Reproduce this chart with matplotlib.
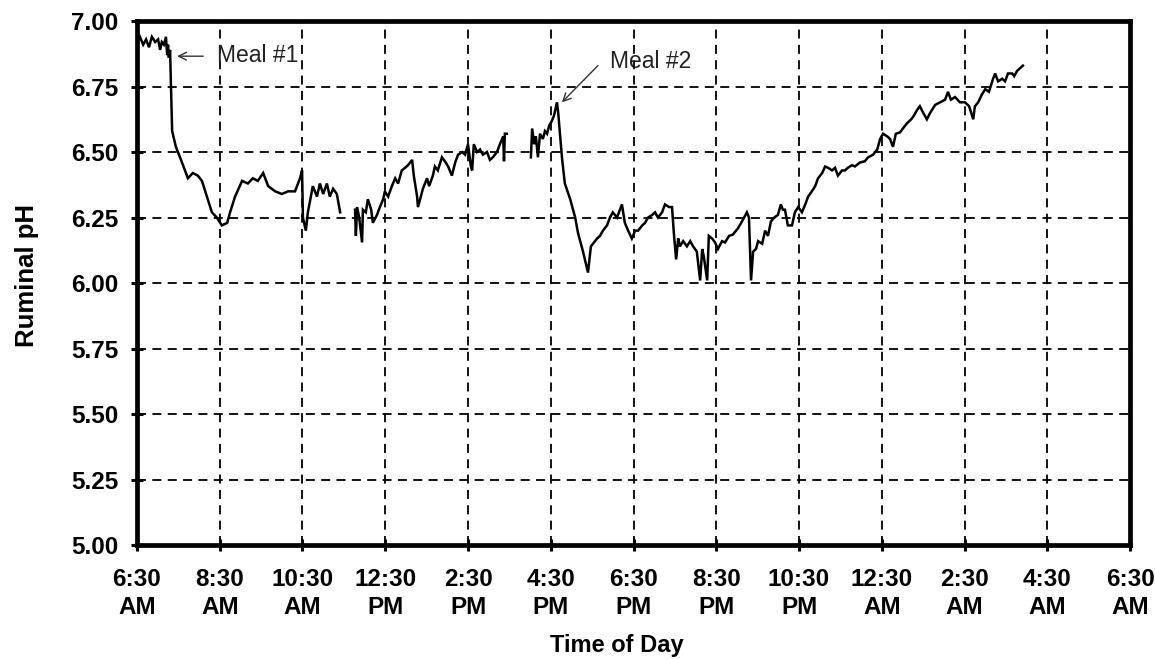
import matplotlib
matplotlib.use("Agg")
import matplotlib.pyplot as plt

plt.rcParams['font.family'] = ['Liberation Sans', 'DejaVu Sans']

# Time is in hours after 6:30 AM; pH readings from the ruminal probe.
# Segment 1: 6:30 AM to ~11:25 AM
hours1 = [0.00, 0.07, 0.15, 0.22, 0.29, 0.36, 0.44, 0.51, 0.56, 0.60, 0.65, 0.70,
          0.73, 0.75, 0.77, 0.80, 0.82, 0.85, 0.94, 1.04, 1.16, 1.23, 1.35, 1.47,
          1.57, 1.69, 1.81, 1.93, 2.05, 2.18, 2.25, 2.37, 2.54, 2.68, 2.80, 2.92,
          3.05, 3.17, 3.34, 3.50, 3.65, 3.82, 3.94, 3.99, 4.01, 4.08, 4.13, 4.25,
          4.35, 4.42, 4.50, 4.59, 4.66, 4.74, 4.83, 4.91]
ph1 = [6.92, 6.94, 6.91, 6.93, 6.90, 6.94, 6.92, 6.93, 6.89, 6.92, 6.91, 6.94,
       6.87, 6.91, 6.86, 6.89, 6.76, 6.58, 6.52, 6.48, 6.43, 6.40, 6.42, 6.41,
       6.39, 6.33, 6.27, 6.25, 6.22, 6.23, 6.27, 6.33, 6.39, 6.38, 6.40, 6.39,
       6.42, 6.37, 6.35, 6.34, 6.35, 6.35, 6.40, 6.43, 6.25, 6.20, 6.27, 6.37,
       6.33, 6.38, 6.34, 6.38, 6.33, 6.36, 6.34, 6.27]

# Segment 2: ~11:45 AM to ~3:25 PM
hours2 = [5.27, 5.29, 5.32, 5.37, 5.44, 5.46, 5.53, 5.58, 5.66, 5.70, 5.80, 5.87,
          5.95, 5.99, 6.07, 6.16, 6.24, 6.31, 6.40, 6.48, 6.55, 6.65, 6.69, 6.77,
          6.79, 6.86, 6.91, 7.01, 7.06, 7.15, 7.20, 7.27, 7.37, 7.44, 7.52, 7.61,
          7.69, 7.76, 7.86, 7.93, 8.00, 8.07, 8.10, 8.14, 8.22, 8.29, 8.36, 8.46,
          8.53, 8.60, 8.70, 8.77, 8.85, 8.87, 8.89, 8.94]
ph2 = [6.28, 6.18, 6.29, 6.25, 6.155, 6.28, 6.27, 6.32, 6.28, 6.23, 6.26, 6.29,
       6.32, 6.35, 6.33, 6.37, 6.40, 6.38, 6.43, 6.44, 6.45, 6.47, 6.41, 6.33,
       6.29, 6.33, 6.36, 6.40, 6.37, 6.41, 6.445, 6.43, 6.48, 6.465, 6.445, 6.41,
       6.46, 6.49, 6.50, 6.49, 6.53, 6.445, 6.43, 6.53, 6.50, 6.51, 6.49, 6.50,
       6.47, 6.48, 6.50, 6.53, 6.56, 6.465, 6.57, 6.57]

# Segment 3: ~4:00 PM to ~3:55 AM
hours3 = [9.52, 9.55, 9.60, 9.64, 9.69, 9.74, 9.81, 9.86, 9.91, 9.96, 10.03, 10.08,
          10.15, 10.18, 10.27, 10.34, 10.47, 10.59, 10.66, 10.78, 10.90, 10.97, 11.02, 11.12,
          11.19, 11.26, 11.36, 11.43, 11.50, 11.60, 11.72, 11.79, 11.87, 11.96, 12.04, 12.11,
          12.21, 12.28, 12.35, 12.45, 12.52, 12.59, 12.69, 12.76, 12.86, 12.93, 12.98, 13.03,
          13.08, 13.12, 13.20, 13.29, 13.37, 13.44, 13.53, 13.61, 13.66, 13.70, 13.78, 13.82,
          13.90, 13.97, 14.04, 14.14, 14.21, 14.31, 14.40, 14.53, 14.62, 14.74, 14.79, 14.84,
          14.89, 14.96, 15.01, 15.11, 15.18, 15.25, 15.32, 15.40, 15.49, 15.56, 15.61, 15.66,
          15.73, 15.83, 15.90, 15.98, 16.07, 16.15, 16.22, 16.31, 16.39, 16.46, 16.56, 16.63,
          16.70, 16.80, 16.87, 16.94, 17.04, 17.11, 17.18, 17.28, 17.35, 17.47, 17.59, 17.67,
          17.79, 17.89, 17.96, 18.03, 18.13, 18.20, 18.27, 18.34, 18.44, 18.51, 18.61, 18.71,
          18.78, 18.85, 18.92, 19.00, 19.09, 19.17, 19.29, 19.41, 19.53, 19.60, 19.67, 19.77,
          19.89, 20.01, 20.11, 20.21, 20.25, 20.33, 20.42, 20.50, 20.59, 20.69, 20.74, 20.81,
          20.91, 20.98, 21.05, 21.15, 21.20, 21.27, 21.34, 21.41]
ph3 = [6.48, 6.59, 6.53, 6.56, 6.48, 6.57, 6.55, 6.58, 6.57, 6.60, 6.62, 6.64,
       6.69, 6.65, 6.48, 6.38, 6.32, 6.25, 6.19, 6.12, 6.04, 6.14, 6.15, 6.17,
       6.18, 6.20, 6.22, 6.25, 6.27, 6.25, 6.30, 6.23, 6.20, 6.17, 6.20, 6.20,
       6.22, 6.23, 6.25, 6.26, 6.27, 6.25, 6.27, 6.30, 6.29, 6.29, 6.18, 6.09,
       6.17, 6.14, 6.16, 6.14, 6.16, 6.14, 6.12, 6.01, 6.13, 6.10, 6.01, 6.18,
       6.17, 6.155, 6.13, 6.16, 6.155, 6.18, 6.185, 6.21, 6.235, 6.27, 6.25, 6.01,
       6.12, 6.13, 6.16, 6.15, 6.20, 6.18, 6.235, 6.25, 6.26, 6.30, 6.28, 6.28,
       6.22, 6.22, 6.27, 6.29, 6.27, 6.30, 6.33, 6.35, 6.37, 6.40, 6.42, 6.445,
       6.44, 6.43, 6.44, 6.41, 6.43, 6.43, 6.44, 6.45, 6.445, 6.46, 6.465, 6.48,
       6.49, 6.51, 6.55, 6.57, 6.56, 6.55, 6.52, 6.57, 6.575, 6.59, 6.61, 6.625,
       6.64, 6.66, 6.675, 6.65, 6.625, 6.65, 6.68, 6.69, 6.70, 6.73, 6.70, 6.71,
       6.69, 6.69, 6.675, 6.625, 6.675, 6.69, 6.72, 6.74, 6.73, 6.78, 6.80, 6.77,
       6.78, 6.77, 6.80, 6.80, 6.79, 6.81, 6.82, 6.83]

tick_hours = [0, 2, 4, 6, 8, 10, 12, 14, 16, 18, 20, 22, 24]
tick_labels = ["6:30\nAM", "8:30\nAM", "10:30\nAM", "12:30\nPM", "2:30\nPM",
               "4:30\nPM", "6:30\nPM", "8:30\nPM", "10:30\nPM", "12:30\nAM",
               "2:30\nAM", "4:30\nAM", "6:30\nAM"]
ph_ticks = [5.00, 5.25, 5.50, 5.75, 6.00, 6.25, 6.50, 6.75, 7.00]

meal_labels = ["Meal #1", "Meal #2"]
meal_points = [(0.97, 6.866), (10.27, 6.69)]
meal_tails = [(1.60, 6.866), (11.14, 6.83)]
meal_text = [(1.93, 6.87), (11.43, 6.845)]

fig = plt.figure(figsize=(11.55, 6.59), dpi=100)
ax = fig.add_axes([0.1186, 0.173, 0.8598, 0.795])

for h, p in [(hours1, ph1), (hours2, ph2), (hours3, ph3)]:
    ax.plot(h, p, color='black', lw=1.8, solid_joinstyle='miter', zorder=3)

ax.set_xlim(0, 24)
ax.set_ylim(5.0, 7.0)
ax.set_xticks(tick_hours)
ax.set_xticklabels(tick_labels, fontsize=17.5, fontweight='bold', linespacing=1.3)
ax.set_yticks(ph_ticks)
ax.set_yticklabels([f"{v:.2f}" for v in ph_ticks], fontsize=17.5, fontweight='bold')

ax.tick_params(axis='both', direction='inout', length=9, width=2.2, color='black')
ax.tick_params(axis='x', pad=12)
ax.tick_params(axis='y', pad=9)

ax.grid(True, color='black', lw=1.3, linestyle=(0, (5, 3.5)), zorder=1)
for s in ax.spines.values():
    s.set_linewidth(3.4)
    s.set_color('black')

ax.set_xlabel("Time of Day", fontsize=17, fontweight='bold')
ax.xaxis.set_label_coords(0.483, -0.17)
ax.set_ylabel("Ruminal pH", fontsize=18.5, fontweight='bold')
ax.yaxis.set_label_coords(-0.099, 0.515)

for lbl, head, tail, txt in zip(meal_labels, meal_points, meal_tails, meal_text):
    ax.annotate('', xy=head, xytext=tail,
                arrowprops=dict(arrowstyle='->', color='#333333', lw=1.0,
                                shrinkA=0, shrinkB=0, mutation_scale=14))
    ax.text(txt[0], txt[1], lbl, fontsize=16.5, color='#222222',
            ha='left', va='center', zorder=4)

fig.savefig("out.png", dpi=100)
